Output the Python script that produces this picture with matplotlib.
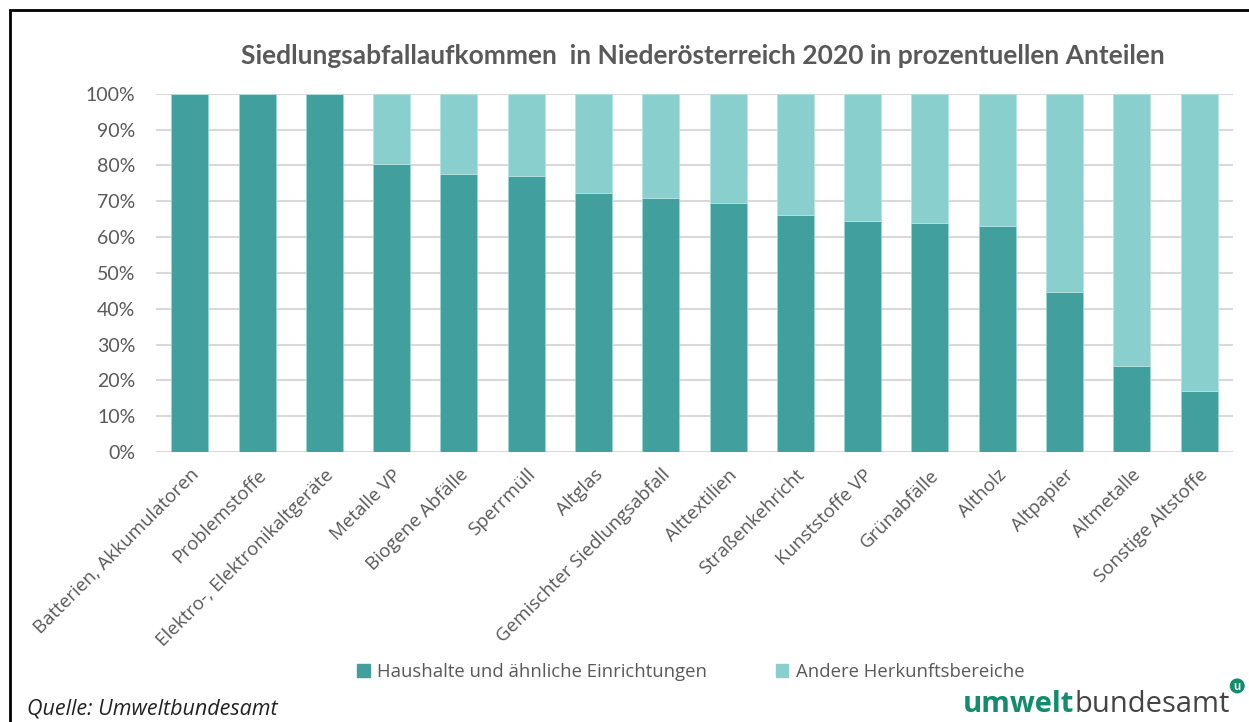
import matplotlib.pyplot as plt
import matplotlib.patches as mpatches
import numpy as np

categories = ["Batterien, Akkumulatoren", "Problemstoffe", "Elektro-, Elektronikaltgeräte",
              "Metalle VP", "Biogene Abfälle", "Sperrmüll", "Altglas",
              "Gemischter Siedlungsabfall", "Alttextilien", "Straßenkehricht",
              "Kunststoffe VP", "Grünabfälle", "Altholz", "Altpapier", "Altmetalle",
              "Sonstige Altstoffe"]
haushalte = [100, 100, 100, 80.5, 77.6, 77.0, 72.3, 70.9, 69.4, 66.2, 64.6, 64.0, 63.2, 44.7, 24.0, 17.1]
andere = [100 - v for v in haushalte]
series_names = ["Haushalte und ähnliche Einrichtungen", "Andere Herkunftsbereiche"]
yticks = [0, 10, 20, 30, 40, 50, 60, 70, 80, 90, 100]

dark = "#41A09E"
light = "#88CFCD"
txt = "#595959"
plt.rcParams['font.family'] = ['Lato', 'DejaVu Sans']
os_font = ['Open Sans', 'DejaVu Sans']

fig = plt.figure(figsize=(12.49, 7.22), dpi=100)
ax = fig.add_axes([0.125, 0.374, 0.862, 0.496])

x = np.arange(len(categories))
ax.bar(x, haushalte, width=0.55, color=dark, edgecolor="#9ad6d4", linewidth=0.6, zorder=3)
ax.bar(x, andere, bottom=haushalte, width=0.55, color=light, edgecolor="#b5e3e1", linewidth=0.6, zorder=3)

ax.set_xlim(-0.5, len(categories) - 0.5)
ax.set_ylim(0, 100)
ax.set_yticks(yticks)
ax.set_yticklabels([f"{v}%" for v in yticks], fontsize=14, color=txt)
ax.yaxis.grid(True, color="#D9D9D9", linewidth=1.5, zorder=0)
ax.set_xticks(x)
ax.set_xticklabels(categories, rotation=45, ha="right", rotation_mode="anchor",
                   fontsize=13.5, color=txt, family=os_font)
ax.tick_params(axis="y", length=0, pad=15)
ax.tick_params(axis="x", length=0, pad=10)
for s in ax.spines.values():
    s.set_visible(False)

fig.text(0.563, 0.923, "Siedlungsabfallaufkommen  in Niederösterreich 2020 in prozentuellen Anteilen",
         ha="center", va="center", fontsize=19, fontweight="bold", color=txt)

# legend
handles = [mpatches.Patch(color=dark), mpatches.Patch(color=light)]
fig.legend(handles, series_names, loc="center", bbox_to_anchor=(0.553, 0.069), ncol=2,
           frameon=False, prop={'family': os_font, 'size': 13.3}, labelcolor=txt,
           handlelength=0.7, handleheight=0.7, columnspacing=3.7, handletextpad=0.4)

fig.text(0.022, 0.018, "Quelle: Umweltbundesamt", fontsize=15.5, style="italic",
         color="#222222", ha="left", va="center", family=os_font)

# logo
t1 = fig.text(0.771, 0.024, "umwelt", fontsize=21, fontweight="bold", color="#138C6E",
              ha="left", va="center", family=os_font)
fig.canvas.draw()
bb = t1.get_window_extent()
t2 = fig.text(bb.x1 / fig.bbox.width, 0.024, "bundesamt", fontsize=21, color="#444444",
              ha="left", va="center", family=os_font)
fig.canvas.draw()
bb2 = t2.get_window_extent()
fig.text(bb2.x1 / fig.bbox.width + 0.006, 0.05, "u", fontsize=9, fontweight="bold",
         color="white", ha="center", va="center",
         bbox=dict(boxstyle="circle,pad=0.12", fc="#138C6E", ec="none"))

# frame
fig.add_artist(mpatches.Rectangle((10 / 1249, -0.05), 1.2, 1 - 10 / 722 + 0.05,
                                  transform=fig.transFigure, fill=False, ec="black", lw=2))

fig.savefig("out.png", dpi=100)
